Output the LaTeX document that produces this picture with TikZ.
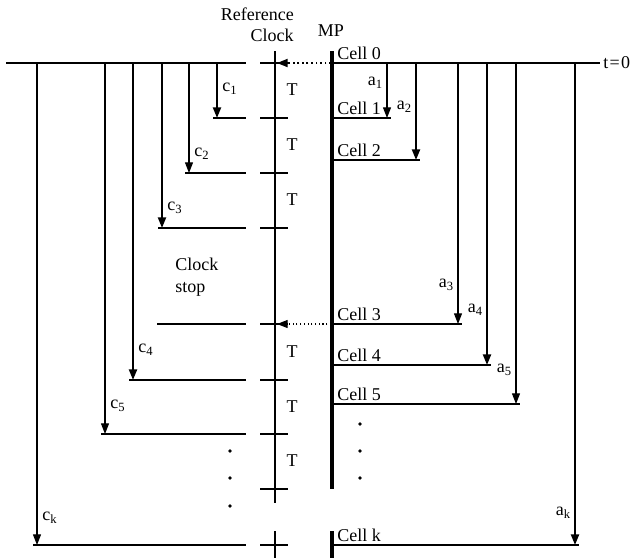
\documentclass[tikz,border=0pt]{standalone}
\usepackage{fontspec}
\setmainfont{Liberation Serif}
\usetikzlibrary{arrows.meta}
\tikzset{
  thinln/.style={line width=0.8pt},
  thickln/.style={line width=1.6pt},
  mpln/.style={line width=2.4pt},
  hln/.style={line width=0.9pt},
  downarr/.style={-{Triangle[length=8pt,width=6pt]}},
  lbl/.style={inner sep=0pt},
}

\begin{document}
\begin{tikzpicture}[x=0.75pt, y=-0.75pt, font=\fontsize{13.5}{16}\selectfont]
\useasboundingbox (0,0) rectangle (632,558);
% reference clock
\draw[thinln] (275,51) -- (275,503);
\draw[thinln] (275,531) -- (275,558);
\foreach \y in {63,118,173,228,324,380,434,489,545}
  \draw[hln] (260,\y) -- (288,\y);
\foreach \y [count=\i] in {90,145,200,352,407,461}
  \node[lbl] (T\i) at (292,\y) {T};
\node[lbl, align=right, anchor=east] (refclk) at (294,25) {Reference\\Clock};
% left side: clock arrivals
\draw[hln] (6,63) -- (246,63);
\foreach \n/\x/\y/\w/\ly in {1/217/118/thickln/89, 2/189/173/thinln/154, 3/162/228/thickln/208,
                             4/133/380/thickln/350, 5/105/434/thinln/406, k/37/545/thinln/518}{
  \coordinate (c\n-top) at (\x,63);
  \coordinate (c\n-end) at (\x,\y);
  \draw[\w, downarr] (c\n-top) -- (c\n-end);
  \draw[hln] (\x-4,\y) -- (246,\y);
  \node[lbl, anchor=west] (c\n-lbl) at (\x+5,\ly) {c\textsubscript{\n}};
}
\draw[hln] (157,324) -- (246,324);
\node[lbl, align=left, anchor=west] (stop) at (175,277) {Clock\\stop};
\foreach \y in {451,478,506}
  \fill (230,\y) circle[radius=1.4pt];
% MP side: cells
\draw[mpln] (332,51) -- (332,489);
\draw[mpln] (332,531) -- (332,558);
\node[lbl] (mp) at (331,31) {MP};
\foreach \n/\y/\ex in {0/63/600, 1/118/391, 2/160/420, 3/324/462, 4/365/491, 5/404/520, k/545/579}{
  \draw[hln] (332,\y) -- (\ex,\y);
  \node[lbl, anchor=base west] (cell\n) at (337,\y-4) {Cell \n};
}
\node[lbl, anchor=west] (t0) at (603,63) {t\kern1pt=\kern1pt0};
\foreach \n/\x/\y/\w/\ly in {1/387/118/thinln/83, 2/416/160/thickln/107, 3/458/324/thinln/285,
                             4/487/365/thickln/310, 5/516/404/thinln/370, k/575/545/thickln/513}{
  \coordinate (a\n-top) at (\x,63);
  \coordinate (a\n-end) at (\x,\y);
  \draw[\w, downarr] (a\n-top) -- (a\n-end);
  \node[lbl, anchor=east] (a\n-lbl) at (\x-4,\ly) {a\textsubscript{\n}};
}
\foreach \y in {424,451,478}
  \fill (360,\y) circle[radius=1.4pt];
% MP -> clock
\coordinate (mp0) at (331,63);
\coordinate (clk0) at (277,63);
\coordinate (mp3) at (331,324);
\coordinate (clk3) at (277,324);
\draw[line width=1.4pt, dotted, downarr] (mp0) -- (clk0);
\draw[thinln, dotted, downarr] (mp3) -- (clk3);
\end{tikzpicture}
\end{document}
